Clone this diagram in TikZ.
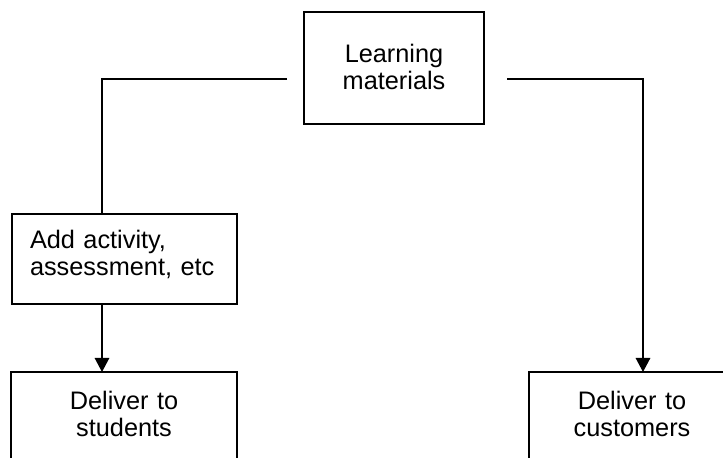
\documentclass[tikz,border=0pt]{standalone}
\usepackage{fontspec}
\setmainfont{Liberation Sans}
\usetikzlibrary{arrows.meta}

\begin{document}
\begin{tikzpicture}[
    x=0.025cm, y=-0.025cm,
    font=\fontsize{18}{19.2}\selectfont,
    box/.style={draw, line width=1.2pt, anchor=north west,
      inner sep=0pt, outer sep=0pt},
    link/.style={line width=1.2pt},
    arr/.style={link, -{Triangle[length=3.5mm,width=3.6mm]}},
  ]

  \useasboundingbox (0,0) rectangle (723,458);
  \clip (0,0) rectangle (723,458);

  % ---- the source box at the top -------------------------------------------
  \node[box, text width=4.5cm, align=center,
        text height=1.25cm, text depth=1.55cm] (learn) at (304,12)
        {Learning\\materials};

  % ---- the left branch: extra material, then the students ------------------
  \node[box, text width=4.725cm, inner xsep=0.45cm, align=left,
        text height=0.85cm, text depth=1.4cm] (add) at (12,214)
        {Add activity,\\assessment, etc};
  \node[box, text width=5.65cm, align=center,
        text height=0.925cm, text depth=2.5cm] (students) at (11,372)
        {Deliver to\\students};

  % ---- the right branch: straight to the customers --------------------------
  \node[box, text width=5.15cm, align=center,
        text height=0.925cm, text depth=2.5cm] (customers) at (529,372)
        {Deliver to\\customers};

  % ---- connectors (they stop short of the top box) -------------------------
  \coordinate (learnL) at (287,79);
  \coordinate (jointL) at (102,79);
  \coordinate (learnR) at (507,79);
  \coordinate (jointR) at (643,79);

  \draw[link] (learnL) -- (jointL) -- (jointL |- add.north);
  \draw[arr] (jointL |- add.south) -- (jointL |- students.north);
  \draw[arr] (learnR) -- (jointR) -- (jointR |- customers.north);

\end{tikzpicture}
\end{document}
